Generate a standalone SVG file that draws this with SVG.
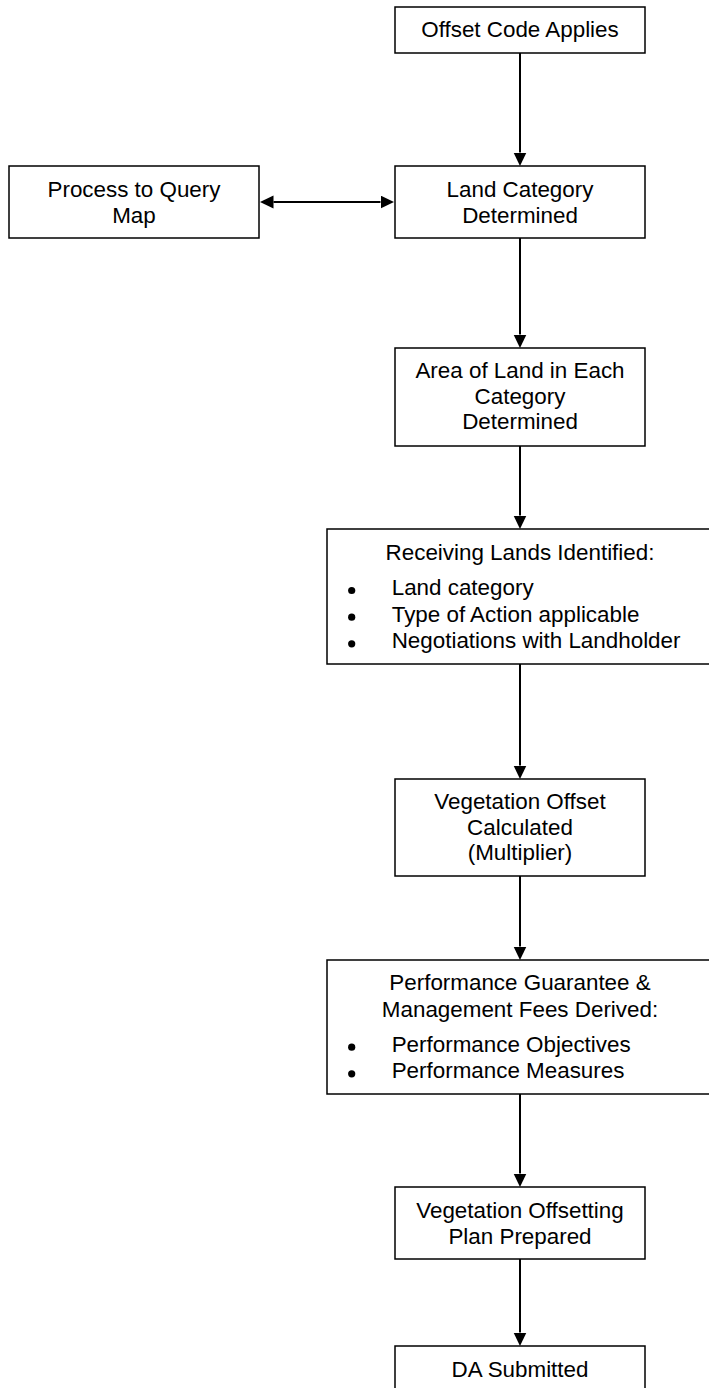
<svg xmlns="http://www.w3.org/2000/svg" width="709" height="1388" viewBox="0 0 709 1388">
  <style>
    .box { fill: #ffffff; stroke: #000000; stroke-width: 1.5; }
    .lbl { font-family: "Liberation Sans", Arial, sans-serif; font-size: 22.4px; fill: #000000; }
    .c { text-anchor: middle; }
    .b { text-anchor: start; }
    .dot { fill: #000000; }
    .conn { stroke: #000000; stroke-width: 2; fill: none; }
  </style>
  <defs>
    <marker id="arrow" markerUnits="userSpaceOnUse" markerWidth="14" markerHeight="14" refX="0" refY="6.5" orient="auto-start-reverse">
      <path d="M0,0 L13.5,6.5 L0,13 z" fill="#000000"/>
    </marker>
  </defs>
  <rect width="709" height="1388" fill="#ffffff"/>

  <!-- connectors -->
  <g id="connectors">
    <line class="conn" x1="520" y1="53" x2="520" y2="152.5" marker-end="url(#arrow)"/>
    <line class="conn" x1="273.5" y1="202" x2="380.5" y2="202" marker-start="url(#arrow)" marker-end="url(#arrow)"/>
    <line class="conn" x1="520" y1="238" x2="520" y2="334.5" marker-end="url(#arrow)"/>
    <line class="conn" x1="520" y1="446" x2="520" y2="515.5" marker-end="url(#arrow)"/>
    <line class="conn" x1="520" y1="664" x2="520" y2="765.5" marker-end="url(#arrow)"/>
    <line class="conn" x1="520" y1="876" x2="520" y2="946.5" marker-end="url(#arrow)"/>
    <line class="conn" x1="520" y1="1094" x2="520" y2="1173.5" marker-end="url(#arrow)"/>
    <line class="conn" x1="520" y1="1259" x2="520" y2="1332.5" marker-end="url(#arrow)"/>
  </g>

  <g id="offset-code">
    <rect class="box" x="395" y="7" width="250" height="46"/>
    <text class="lbl c" x="520" y="37">Offset Code Applies</text>
  </g>

  <g id="query-map">
    <rect class="box" x="9" y="166" width="250" height="72"/>
    <text class="lbl c" x="134" y="197">Process to Query</text>
    <text class="lbl c" x="134" y="223">Map</text>
  </g>

  <g id="land-category">
    <rect class="box" x="395" y="166" width="250" height="72"/>
    <text class="lbl c" x="520" y="197">Land Category</text>
    <text class="lbl c" x="520" y="223">Determined</text>
  </g>

  <g id="area-of-land">
    <rect class="box" x="395" y="348" width="250" height="98"/>
    <text class="lbl c" x="520" y="378">Area of Land in Each</text>
    <text class="lbl c" x="520" y="404">Category</text>
    <text class="lbl c" x="520" y="429">Determined</text>
  </g>

  <g id="receiving-lands">
    <rect class="box" x="327" y="529" width="390" height="135"/>
    <text class="lbl c" x="520" y="560">Receiving Lands Identified:</text>
    <circle class="dot" cx="351.7" cy="590.5" r="3.6"/>
    <text class="lbl b" x="391.7" y="595">Land category</text>
    <circle class="dot" cx="351.7" cy="617.2" r="3.6"/>
    <text class="lbl b" x="391.7" y="621.7">Type of Action applicable</text>
    <circle class="dot" cx="351.7" cy="643.8" r="3.6"/>
    <text class="lbl b" x="391.7" y="648.3">Negotiations with Landholder</text>
  </g>

  <g id="vegetation-offset">
    <rect class="box" x="395" y="779" width="250" height="97"/>
    <text class="lbl c" x="520" y="809">Vegetation Offset</text>
    <text class="lbl c" x="520" y="835">Calculated</text>
    <text class="lbl c" x="520" y="860">(Multiplier)</text>
  </g>

  <g id="performance-guarantee">
    <rect class="box" x="327" y="960" width="390" height="134"/>
    <text class="lbl c" x="520" y="990">Performance Guarantee &amp;</text>
    <text class="lbl c" x="520" y="1016.7">Management Fees Derived:</text>
    <circle class="dot" cx="351.7" cy="1047.2" r="3.6"/>
    <text class="lbl b" x="391.7" y="1051.7">Performance Objectives</text>
    <circle class="dot" cx="351.7" cy="1073.8" r="3.6"/>
    <text class="lbl b" x="391.7" y="1078.3">Performance Measures</text>
  </g>

  <g id="offsetting-plan">
    <rect class="box" x="395" y="1187" width="250" height="72"/>
    <text class="lbl c" x="520" y="1218">Vegetation Offsetting</text>
    <text class="lbl c" x="520" y="1244">Plan Prepared</text>
  </g>

  <g id="da-submitted">
    <rect class="box" x="395" y="1346" width="250" height="46"/>
    <text class="lbl c" x="520" y="1376.5">DA Submitted</text>
  </g>
</svg>
